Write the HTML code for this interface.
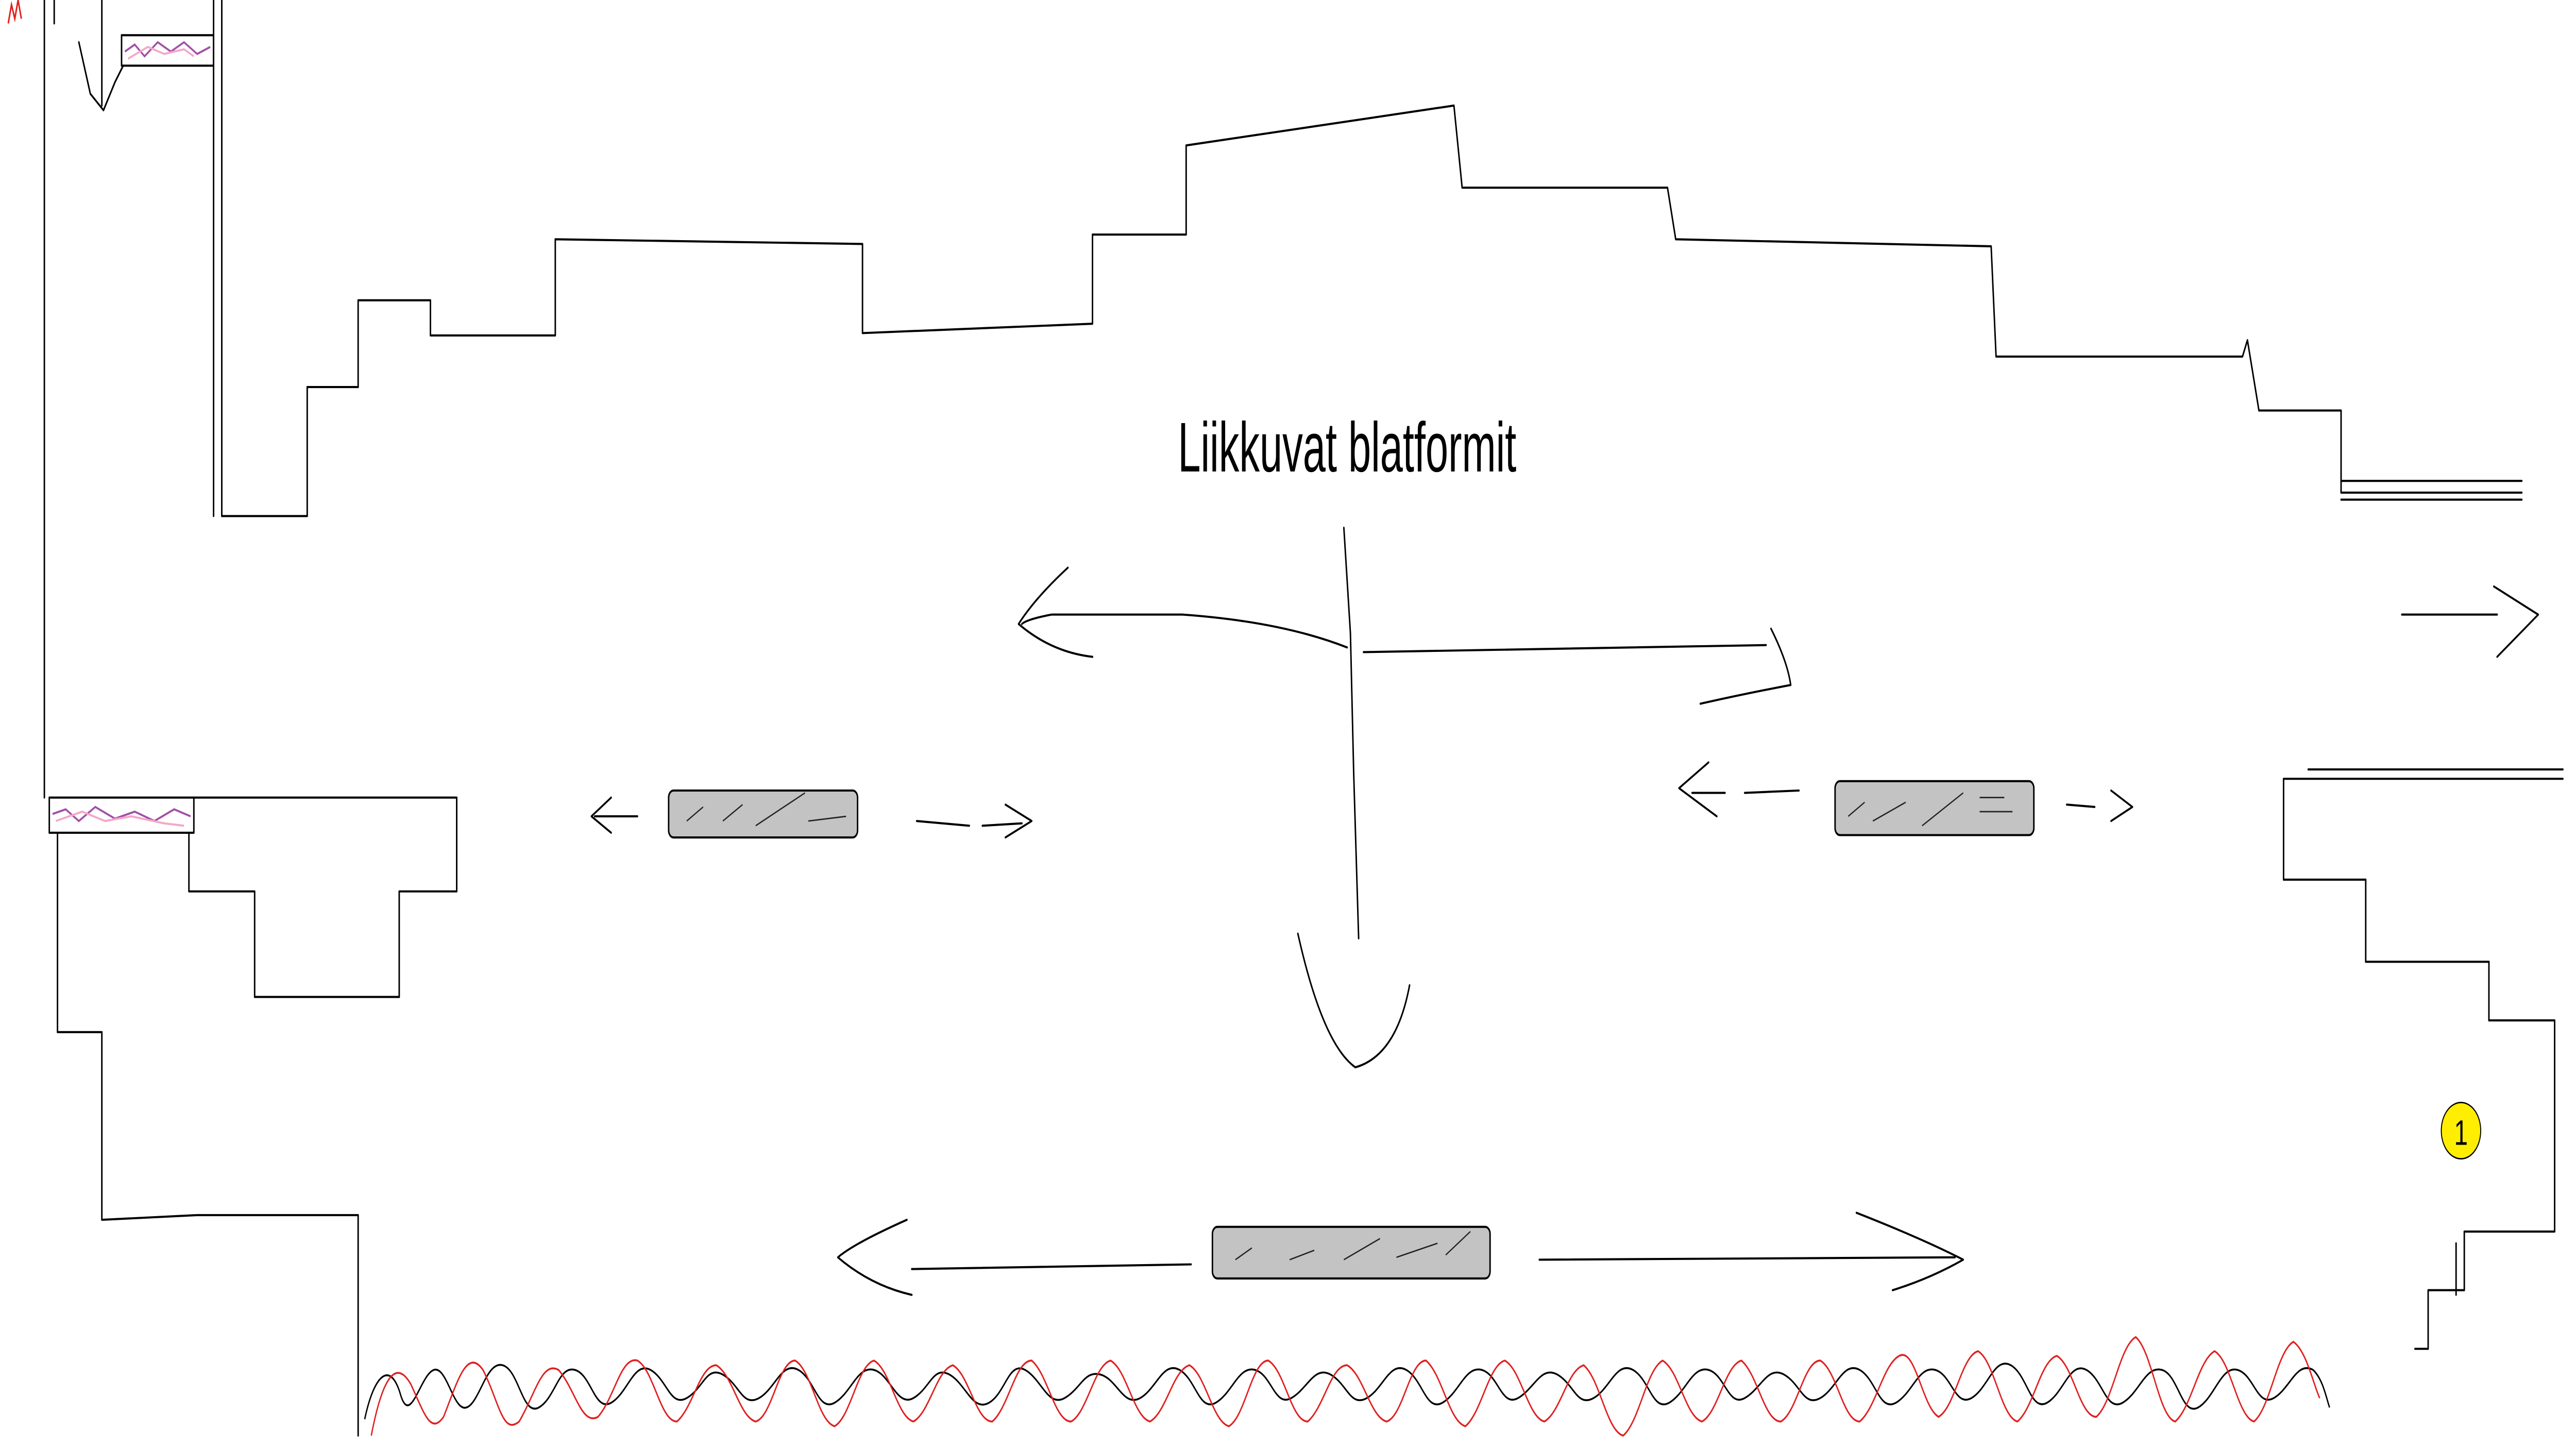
<!DOCTYPE html>
<html><head><meta charset="utf-8"><style>
html,body{margin:0;padding:0;background:#fff;width:100%;height:100%;overflow:hidden;}
svg{display:block;position:fixed;left:0;top:0;width:100vw;height:100vh;}
</style></head><body>
<svg viewBox="0 0 1568 616" preserveAspectRatio="none" xmlns="http://www.w3.org/2000/svg">
<rect width="1568" height="616" fill="#fff"/>
<g fill="none" stroke="#000" stroke-width="0.9" stroke-linejoin="round" stroke-linecap="round">
<polyline points="27,0 27,340"/>
<polyline points="33,0 33,10"/>
<polyline points="35,355 35,440 62,440 62,520 120,518 218,518 218,612"/>
<polyline points="62,0 62,45"/>
<polyline points="48,18 55,40 63,47 70,35 75,28"/>
<rect x="74" y="15" width="56" height="13"/>
<polyline points="130,0 130,220"/>
<polyline points="135,0 135,220 187,220 187,165 218,165 218,128 262,128 262,143 338,143 338,102 525,104 525,142 665,138 665,100 722,100 722,62 885,45 890,80 1015,80 1020,102 1212,105 1215,152 1365,152 1368,145 1375,175 1425,175 1425,210 1535,210"/>
<polyline points="1425,205 1535,205"/>
<polyline points="1425,213 1535,213"/>
<polyline points="1405,328 1560,328"/>
<polyline points="1560,332 1390,332 1390,375 1440,375 1440,410 1515,410 1515,435 1555,435 1555,525 1500,525 1500,550 1478,550 1478,575 1470,575"/>
<polyline points="1495,530 1495,552"/>
<rect x="30" y="340" width="88" height="15"/>
<polyline points="118,340 278,340 278,380 243,380 243,425 155,425 155,380 115,380 115,355"/>
<polyline points="372,340 360,348 372,355"/>
<line x1="362" y1="348" x2="388" y2="348"/>
<line x1="558" y1="350" x2="590" y2="352"/>
<polyline points="612,343 628,350 612,357"/>
<line x1="598" y1="352" x2="622" y2="351"/>
<polyline points="1040,325 1022,336 1045,348"/>
<line x1="1030" y1="338" x2="1050" y2="338"/>
<line x1="1062" y1="338" x2="1095" y2="337"/>
<line x1="1258" y1="343" x2="1275" y2="344"/>
<polyline points="1285,337 1298,344 1285,350"/>
<path d="M552,520 Q520,530 510,536 Q530,548 555,552"/>
<line x1="555" y1="541" x2="725" y2="539"/>
<line x1="937" y1="537" x2="1190" y2="536"/>
<path d="M1130,517 Q1170,528 1195,537 Q1175,545 1152,550"/>
<path d="M818,225 L822,270 L824,330 L827,400"/>
<path d="M790,398 Q805,445 825,455 Q850,450 858,420"/>
<path d="M820,276 Q780,265 720,262 L640,262 Q625,264 622,266"/>
<path d="M650,242 Q630,255 620,266 Q640,278 665,280"/>
<path d="M830,278 L1075,275"/>
<path d="M1078,268 Q1088,282 1090,292 Q1060,296 1035,300"/>
<line x1="1462" y1="262" x2="1520" y2="262"/>
<polyline points="1518,250 1545,262 1520,280"/>
</g>
<g fill="none" stroke-width="0.9">
<path d="M76,22 L82,19 L88,24 L96,18 L104,22 L112,18 L120,23 L128,20" stroke="#a050a8"/>
<path d="M78,25 L90,20 L100,23 L112,21 L118,24" stroke="#f4a8c8"/>
<path d="M32,347 L40,345 L48,350 L58,344 L70,349 L82,346 L94,350 L106,345 L116,348" stroke="#a050a8"/>
<path d="M34,350 L50,346 L64,350 L80,348 L100,351 L112,352" stroke="#f4a8c8"/>
<path d="M5,10 L7,2 L9,8 L11,0 L13,8" stroke="#e02020"/>
</g>
<g fill="#c3c3c3" stroke="#000" stroke-width="0.9">
<rect x="407" y="337" width="115" height="20" rx="3"/>
<rect x="1117" y="333" width="121" height="23" rx="3"/>
<rect x="738" y="523" width="169" height="22" rx="3"/>
</g>
<g stroke="#222" stroke-width="0.6" fill="none">
<path d="M418,350 L428,344 M440,350 L452,343 M460,352 L490,338 M492,350 L515,348"/>
<path d="M1125,348 L1135,342 M1140,350 L1160,342 M1170,352 L1195,338 M1205,340 L1220,340 M1205,346 L1225,346"/>
<path d="M752,537 L762,532 M785,537 L800,533 M818,537 L840,528 M850,536 L875,530 M880,535 L895,525"/>
</g>
<g fill="none" stroke-width="0.8">
<path stroke="#000" d="M222,605 C228,585 238,580 244,595 C250,608 256,586 264,584 C272,582 276,602 284,600 C292,598 296,580 306,582 C316,584 318,604 328,600 C338,596 340,582 350,584 C360,586 362,602 372,598 C382,594 386,580 396,584 C406,588 408,600 418,596 C428,592 430,582 440,586 C450,590 452,600 462,596 C472,592 476,580 486,584 C496,588 498,602 508,598 C518,594 522,582 532,584 C542,586 546,600 556,596 C566,592 568,582 578,586 C588,590 592,602 602,598 C612,594 614,580 624,584 C634,588 638,600 648,596 C658,592 660,584 670,586 C680,588 684,600 694,596 C704,592 708,580 718,584 C728,588 730,602 740,598 C750,594 754,582 764,584 C774,586 776,600 786,596 C796,592 800,582 810,586 C820,590 822,600 832,596 C842,592 846,580 856,584 C866,588 868,602 878,598 C888,594 892,582 902,584 C912,586 914,600 924,596 C934,592 938,582 948,586 C958,590 960,600 970,596 C980,592 984,580 994,584 C1004,588 1006,602 1016,598 C1026,594 1030,582 1040,584 C1050,586 1052,600 1062,596 C1072,592 1076,582 1086,586 C1096,590 1098,600 1108,596 C1118,592 1122,580 1132,584 C1142,588 1144,602 1154,598 C1164,594 1168,582 1178,584 C1188,586 1190,600 1200,596 C1210,592 1214,578 1224,582 C1234,586 1236,602 1246,598 C1256,594 1260,580 1270,584 C1280,588 1282,602 1292,598 C1302,594 1306,582 1316,584 C1326,586 1328,604 1338,600 C1348,596 1352,582 1362,584 C1372,586 1374,600 1384,596 C1394,592 1398,580 1408,584 C1414,588 1416,596 1418,600"/>
<path stroke="#e02020" d="M226,612 C232,590 240,578 250,590 C258,602 262,612 270,604 C278,590 284,574 294,584 C304,598 306,612 316,606 C326,594 330,580 340,584 C350,592 354,608 364,604 C374,596 378,578 388,580 C398,584 402,606 412,606 C422,600 426,582 436,582 C446,586 450,604 460,606 C470,604 474,580 484,580 C494,584 498,606 508,608 C518,604 522,582 532,580 C542,584 546,604 556,606 C566,602 570,584 580,582 C590,586 594,606 604,606 C614,600 618,580 628,580 C638,586 642,606 652,606 C662,602 666,582 676,580 C686,584 690,604 700,606 C710,602 714,584 724,582 C734,586 738,606 748,608 C758,604 762,580 772,580 C782,584 786,606 796,606 C806,600 810,582 820,582 C830,586 834,604 844,606 C854,604 858,580 868,580 C878,586 882,606 892,608 C902,602 906,582 916,580 C926,584 930,604 940,606 C950,602 954,584 964,582 C974,588 978,610 988,612 C998,606 1002,584 1012,580 C1022,584 1026,604 1036,606 C1046,602 1050,582 1060,580 C1070,586 1074,606 1084,606 C1094,602 1098,580 1108,580 C1118,584 1122,606 1132,606 C1142,600 1146,582 1156,578 C1166,574 1170,600 1180,604 C1190,600 1194,578 1204,576 C1214,580 1218,604 1228,606 C1238,600 1242,580 1252,578 C1262,582 1266,604 1276,604 C1286,598 1290,574 1300,570 C1310,576 1314,604 1324,606 C1334,600 1338,580 1348,576 C1358,580 1362,604 1372,606 C1382,600 1386,576 1396,572 C1404,576 1408,590 1412,596"/>
</g>
<text x="717" y="201" font-family="Liberation Sans, sans-serif" font-size="30" textLength="206" lengthAdjust="spacingAndGlyphs" fill="#000">Liikkuvat blatformit</text>
<circle cx="1498" cy="482" r="12" fill="#ffee00" stroke="#000" stroke-width="0.6"/>
<text x="1498" y="488" font-family="Liberation Sans, sans-serif" font-size="15" text-anchor="middle" fill="#000">1</text>
</svg>
</body></html>
